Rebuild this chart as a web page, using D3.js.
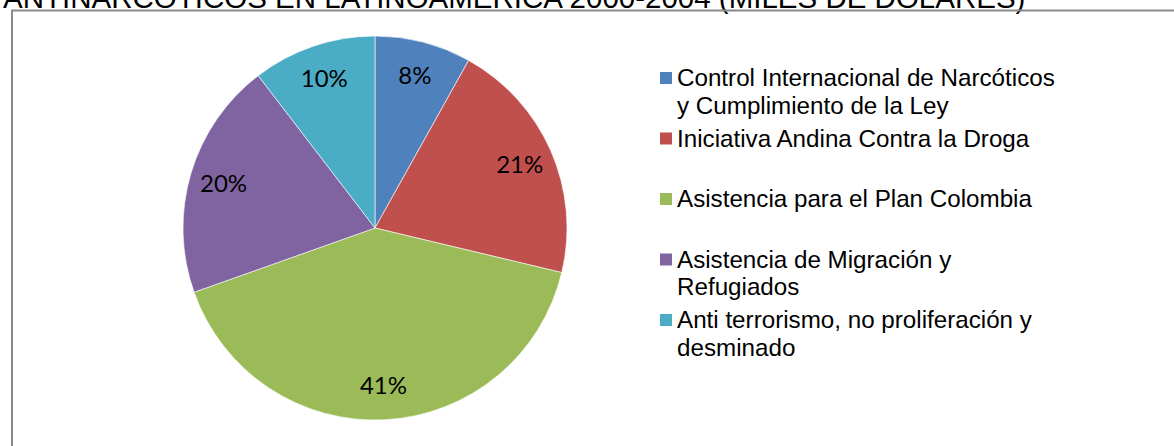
<!DOCTYPE html>
<html lang="es">
<head>
    <meta charset="UTF-8">
    <title>Asistencia antinarcóticos</title>
    <style>
        body { margin: 0; background: #fff; }
        svg { display: block; }
    </style>
</head>
<body>
    <script src="https://d3js.org/d3.v7.min.js"></script>
    <script>
        // Data (shares of total, %)
        const categories = [
            "Control Internacional de Narcóticos y Cumplimiento de la Ley",
            "Iniciativa Andina Contra la Droga",
            "Asistencia para el Plan Colombia",
            "Asistencia de Migración y Refugiados",
            "Anti terrorismo, no proliferación y desminado"
        ];
        const values = [8.1, 20.6, 40.8, 20.0, 10.4];
        const colors = ["#4F81BD", "#C0504D", "#9BBB59", "#8064A2", "#4BACC6"];
        const title = "ANTINARCÓTICOS EN LATINOAMÉRICA 2000-2004 (MILES DE DÓLARES)";

        const width = 1174,
            height = 446,
            cx = 375,
            cy = 228,
            radius = 192,
            labelRadius = 158,
            legendX = 660,
            legendFont = 24.2,
            lineHeight = 27.7,
            wrapWidth = 385;

        const total = d3.sum(values);
        const data = categories.map(function(c, i){
            return {label: c, value: values[i], color: colors[i]};
        });

        const svg = d3.select("body").append("svg")
            .attr("width", width)
            .attr("height", height);

        // title (cut off at the top, like the original)
        svg.append("text")
            .attr("x", 3)
            .attr("y", 8)
            .style("font-family", "'Liberation Sans', Arial, sans-serif")
            .style("font-size", "29.5px")
            .attr("fill", "#000")
            .text(title);

        // chart frame: only top and left edges are visible
        svg.append("path")
            .attr("d", `M12,${height} V10.5 H${width}`)
            .attr("fill", "none")
            .attr("stroke", "#8a8a8a")
            .attr("stroke-width", 2);

        const pie = d3.pie()
            .value(function(d){ return d.value; })
            .sort(null);
        const arc = d3.arc().innerRadius(0).outerRadius(radius);
        const labelArc = d3.arc().innerRadius(labelRadius).outerRadius(labelRadius);

        const g = svg.append("g")
            .attr("transform", `translate(${cx},${cy})`);

        g.selectAll(".slice")
            .data(pie(data))
            .enter().append("path")
            .attr("class", "slice")
            .attr("d", arc)
            .attr("fill", function(d){ return d.data.color; })
            .attr("stroke", "#fff")
            .attr("stroke-width", 0.6);

        g.selectAll(".pct")
            .data(pie(data))
            .enter().append("text")
            .attr("class", "pct")
            .attr("transform", function(d){ return `translate(${labelArc.centroid(d)})`; })
            .attr("text-anchor", "middle")
            .attr("dy", "0.36em")
            .style("font-family", "Lato, 'Open Sans', sans-serif")
            .style("font-size", "24px")
            .attr("fill", "#000")
            .text(function(d){ return Math.round(d.data.value / total * 100) + "%"; });

        // legend
        const legendY = d3.scalePoint()
            .domain(d3.range(data.length))
            .range([86, 328]);

        const legend = svg.selectAll(".legend")
            .data(data)
            .enter().append("g")
            .attr("class", "legend")
            .attr("transform", function(d, i){ return `translate(${legendX},${legendY(i)})`; });

        legend.append("rect")
            .attr("x", 0)
            .attr("y", -14)
            .attr("width", 12)
            .attr("height", 12)
            .attr("fill", function(d){ return d.color; });

        legend.each(function(d){
            const t = d3.select(this).append("text")
                .attr("x", 17)
                .attr("y", 0)
                .style("font-family", "'Liberation Sans', Arial, sans-serif")
                .style("font-size", legendFont + "px")
                .attr("fill", "#000");
            // simple word wrap
            const words = d.label.split(" ");
            let line = [], lineNo = 0;
            let tspan = t.append("tspan").attr("x", 17).attr("y", 0);
            words.forEach(function(w){
                line.push(w);
                tspan.text(line.join(" "));
                if (tspan.node().getComputedTextLength() > wrapWidth && line.length > 1) {
                    line.pop();
                    tspan.text(line.join(" "));
                    line = [w];
                    lineNo++;
                    tspan = t.append("tspan")
                        .attr("x", 17)
                        .attr("y", lineNo * lineHeight)
                        .text(w);
                }
            });
        });
    </script>
</body>
</html>
